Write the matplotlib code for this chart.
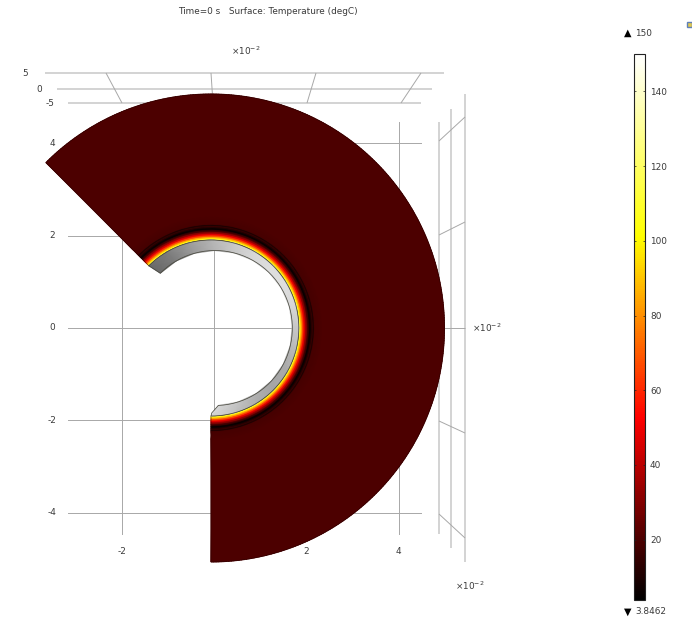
import numpy as np
import matplotlib
matplotlib.use("Agg")
import matplotlib.pyplot as plt
from matplotlib.colors import LinearSegmentedColormap, Normalize

plt.rcParams['font.family'] = 'DejaVu Sans'
plt.rcParams['mathtext.fontset'] = 'dejavusans'

W, H = 692, 620
TITLE = "Time=0 s   Surface: Temperature (degC)"
T_MIN, T_MAX = 3.8462, 150
CBAR_TICKS = [20, 40, 60, 80, 100, 120, 140]
X_TICKS = [-2, 2, 4]
Y_TICKS = [4, 2, 0, -2, -4]
Z_TICKS = [5, 0, -5]

# radial temperature readings, distance from the ring surface (1e-2 m)
DEPTH = [0, .025, .05, .08, .115, .15, .19, .235, .27, .30, .315, .34, .5, 3.16]
TEMP = [128, 104, 88, 68, 50, 35, 20, 5, 11, 17, 9, 19, 20, 20]
# ring brightness every 15 degrees, from the upper-left tip clockwise
RING_ANGLE = [135, 120, 105, 90, 75, 60, 45, 30, 15, 0, -15, -30, -45, -60, -75, -90]
RING_GREY = [105, 125, 155, 180, 200, 215, 222, 222, 215, 200, 185, 170, 165, 175, 195, 215]

SX, SY, X0, Y0 = 46.1, 46.2, 214.3, 328.0
def X(p): return (np.asarray(p, float) - X0) / SX
def Y(p): return (Y0 - np.asarray(p, float)) / SY

cmap = LinearSegmentedColormap.from_list(
    "heat",
    [(0, "#000000"), (0.11, "#4c0000"), (1 / 3, "#ff0000"), (2 / 3, "#ffff00"), (1, "#ffffff")],
    N=256)
norm = Normalize(T_MIN, T_MAX)

fig = plt.figure(figsize=(W / 100, H / 100), dpi=100, facecolor="white")
ax = fig.add_axes([0, 0, 1, 1])
ax.set_xlim(X(0), X(W))
ax.set_ylim(Y(H), Y(0))
ax.axis("off")

GRID = "#a8a8a8"
WALL = "#c8c8c8"
def seg(x, y, lw=0.7, c=GRID, z=1):
    ax.plot(X(x), Y(y), color=c, lw=lw, zorder=z, solid_capstyle="butt")

# perspective box: back wall lines and connectors
for y, x0, x1 in [(73, 45, 444), (89, 57, 432), (103, 68, 421)]:
    seg([x0, x1], [y, y], lw=1.1, c=WALL)
for x0, y0, x1, y1 in [(106, 73, 122, 103), (211, 73, 213, 103), (316, 73, 307, 103), (421, 73, 401, 103)]:
    seg([x0, x1], [y0, y1])
# side wall
for x, y0, y1 in [(465, 94, 562), (451, 109, 548), (439, 122, 534)]:
    seg([x, x], [y0, y1], lw=1.1, c=WALL)
for x0, y0, x1, y1 in [(465, 117, 439, 141), (465, 222, 439, 235), (465, 328, 439, 328),
                       (465, 433, 439, 421), (465, 538, 439, 514)]:
    seg([x0, x1], [y0, y1])
# xy grid
for v in Y_TICKS:
    ax.plot([X(68), X(421)], [v, v], color=GRID, lw=0.7, zorder=1)
for v in [-2, 0, 2, 4]:
    ax.plot([v, v], [Y(122), Y(534)], color=GRID, lw=0.7, zorder=1)

# centre of the outer domain
CX, R_RING = float(X(211)), 88 / SY
th = np.radians(np.linspace(135, -90, 361))
rad = R_RING + np.array(DEPTH)
R_OUT = rad[-1]
rr, tt = np.meshgrid(rad, th)
field = np.tile(TEMP, (len(th), 1))
mesh = ax.pcolormesh(CX + rr * np.cos(tt), rr * np.sin(tt), field, cmap=cmap, norm=norm,
                     shading="gouraud", zorder=3, rasterized=True)
# domain outline
ox = np.r_[CX + R_RING * np.cos(th), (CX + R_OUT * np.cos(th))[::-1], CX + R_RING * np.cos(th[0])]
oy = np.r_[R_RING * np.sin(th), (R_OUT * np.sin(th))[::-1], R_RING * np.sin(th[0])]
ax.plot(ox, oy, color="#2a0000", lw=0.35, zorder=4)

# ring (thin gap between offset circles)
a = np.radians(RING_ANGLE)
CX_IN, R_IN = float(X(215)), 77.5 / SY
xo, yo = CX + R_RING * np.cos(a), R_RING * np.sin(a)
ai = np.linspace(a[0], np.radians(-87.5), len(a))
xi, yi = CX_IN + R_IN * np.cos(ai), R_IN * np.sin(ai)
grey = np.array(RING_GREY, float)
ax.pcolormesh(np.c_[xo, xi], np.c_[yo, yi], np.c_[grey, grey], cmap="gray", vmin=0, vmax=255,
              shading="gouraud", zorder=5)
# fine outline
af = np.radians(np.linspace(135, -90, 181))
aif = np.linspace(ai[0], ai[-1], 181)
lx = np.r_[CX + R_RING * np.cos(af), X(211.7), CX_IN + R_IN * np.cos(aif)[::-1], CX + R_RING * np.cos(af[0])]
ly = np.r_[R_RING * np.sin(af), Y(413), (R_IN * np.sin(aif))[::-1], R_RING * np.sin(af[0])]
ax.plot(lx, ly, color="#4a4a40", lw=0.55, zorder=6)

# texts
TXT = "#3a3a3a"
FS = 6.4
def label(px, py, s, **kw):
    ax.text(X(px), Y(py), s, fontsize=kw.pop("fs", FS), color=kw.pop("c", TXT), ha=kw.pop("ha", "center"),
            va="center", zorder=8, **kw)
label(268, 12, TITLE)
for v, py in zip(Z_TICKS, [73, 89, 103]):
    label({5: 25, 0: 39, -5: 50}[v], py, str(v))
for v in Y_TICKS:
    label(52, Y0 - v * SY, str(v))
for v in X_TICKS:
    label(X0 + v * SX, 551, str(v))
MULT = r"$\times$10$^{-2}$"
label(246, 51, MULT)
label(487, 328, MULT)
label(470, 586, MULT)

# colour bar
cax = fig.add_axes([633.5 / W, 1 - 600 / H, 11 / W, 546 / H])
cb = fig.colorbar(mesh, cax=cax, ticks=CBAR_TICKS)
cb.solids.set_rasterized(False)
cb.outline.set_edgecolor("#222222")
cb.outline.set_linewidth(0.8)
cax.tick_params(axis="y", direction="in", length=1.5, width=0.5, right=True, left=True,
                labelsize=FS, labelcolor=TXT, pad=4, color="#222222")
label(624, 33, "\u25b2", ha="left", c="black", fs=7)
label(635, 33, "150", ha="left")
label(624, 612, "\u25bc", ha="left", c="black", fs=7)
label(635, 612, "3.8462", ha="left")

# window icon stub at the top-right corner
ax.add_patch(plt.Rectangle((X(687), Y(27)), 5 / SX, 5 / SY, fc="#e0c850", ec="#6080b8", lw=1, zorder=8))

fig.savefig("out.png", dpi=100)
